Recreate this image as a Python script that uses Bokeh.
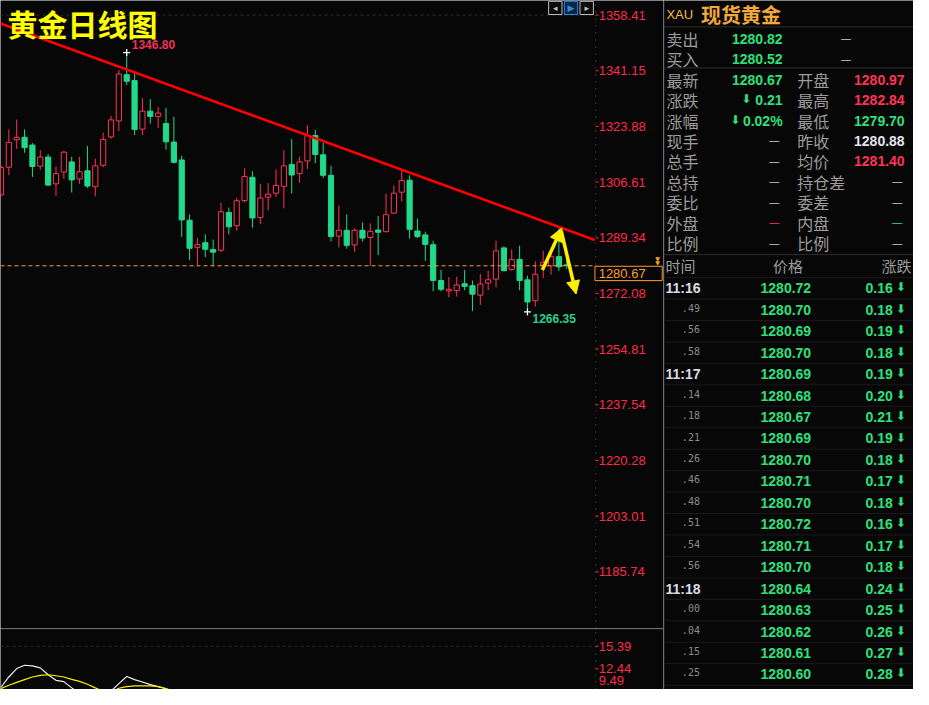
from bokeh.plotting import figure
from bokeh.models import Range1d, Span, Arrow, NormalHead, ColumnDataSource
from bokeh.layouts import row, column
from bokeh.embed import file_html
from bokeh.resources import INLINE
from bokeh.core.properties import value

# ---------------- data ----------------
opens = [1302.67, 1311.24, 1319.73, 1320.54, 1318.12, 1311.55, 1314.39, 1306.09, 1309.73, 1312.88,
         1307.61, 1310.15, 1305.19, 1311.85, 1320.64, 1325.60, 1339.93, 1338.11, 1323.06, 1328.63,
         1327.00, 1324.79, 1319.03, 1313.49, 1294.80, 1286.40, 1287.83, 1285.71, 1285.50, 1297.22,
         1293.07, 1300.94, 1308.12, 1295.61, 1301.97, 1303.19, 1305.31, 1312.06, 1309.25, 1313.18,
         1321.06, 1315.09, 1308.73, 1289.86, 1291.67, 1287.13, 1291.67, 1289.43, 1291.77, 1291.25,
         1297.01, 1303.49, 1307.22, 1291.46, 1290.25, 1287.22, 1276.10, 1272.89, 1272.98, 1275.10,
         1274.50, 1271.56, 1275.32, 1276.53, 1286.22, 1279.56, 1282.68, 1276.32, 1269.86, 1280.86,
         1280.65, 1283.50, 1280.97]
highs = [1311.76, 1322.97, 1326.00, 1322.97, 1318.73, 1316.52, 1315.30, 1311.46, 1316.30, 1314.49,
         1314.49, 1317.82, 1313.88, 1321.97, 1327.12, 1341.36, 1346.80, 1340.33, 1332.66, 1332.36,
         1329.94, 1329.63, 1326.91, 1314.79, 1296.61, 1289.34, 1290.46, 1288.74, 1300.25, 1298.73,
         1301.76, 1310.85, 1309.94, 1306.09, 1306.31, 1310.55, 1316.52, 1319.94, 1314.49, 1324.27,
         1322.88, 1318.82, 1311.67, 1299.34, 1296.61, 1292.28, 1294.10, 1293.80, 1296.10, 1303.07,
         1305.61, 1310.15, 1308.73, 1295.31, 1291.25, 1288.43, 1279.44, 1277.13, 1277.32, 1279.35,
         1276.10, 1278.13, 1279.13, 1288.43, 1286.71, 1285.71, 1286.92, 1277.62, 1282.07, 1285.40,
         1284.71, 1292.28, 1282.84]
lows = [1302.37, 1308.82, 1316.91, 1315.70, 1308.22, 1310.46, 1305.40, 1302.37, 1307.61, 1303.37,
        1306.09, 1304.79, 1302.16, 1311.24, 1320.03, 1322.45, 1336.69, 1321.24, 1321.24, 1324.79,
        1323.36, 1316.70, 1312.37, 1289.65, 1282.38, 1280.95, 1283.37, 1280.65, 1284.89, 1290.46,
        1291.55, 1300.34, 1292.46, 1293.58, 1297.82, 1302.06, 1298.52, 1303.07, 1306.40, 1310.64,
        1312.46, 1307.91, 1288.22, 1286.40, 1286.01, 1285.01, 1288.22, 1280.65, 1283.98, 1291.07,
        1296.82, 1300.55, 1289.13, 1289.25, 1282.16, 1272.77, 1272.77, 1270.86, 1271.08, 1273.08,
        1266.60, 1268.53, 1273.08, 1273.98, 1278.95, 1279.13, 1273.08, 1266.35, 1268.05, 1276.92,
        1277.92, 1279.13, 1279.70]
closes = [1311.15, 1318.94, 1320.54, 1317.30, 1311.46, 1314.39, 1305.70, 1309.25, 1315.91, 1307.31,
          1309.85, 1305.40, 1311.67, 1319.85, 1325.91, 1340.14, 1337.90, 1322.97, 1328.63, 1327.00,
          1328.03, 1319.12, 1312.76, 1294.89, 1286.10, 1287.22, 1285.80, 1284.89, 1297.43, 1292.77,
          1300.85, 1308.34, 1295.49, 1301.67, 1302.88, 1305.61, 1311.67, 1308.82, 1312.88, 1321.06,
          1315.18, 1308.73, 1289.74, 1291.67, 1287.01, 1291.67, 1289.25, 1291.37, 1291.07, 1296.52,
          1303.19, 1307.12, 1291.98, 1289.74, 1287.31, 1276.10, 1273.38, 1273.38, 1274.71, 1274.29,
          1271.86, 1275.01, 1276.32, 1285.31, 1279.13, 1282.59, 1276.10, 1269.44, 1278.04, 1281.77,
          1283.50, 1280.35, 1280.67]

price_ticks = [1358.41, 1341.15, 1323.88, 1306.61, 1289.34, 1272.08, 1254.81, 1237.54,
               1220.28, 1203.01, 1185.74]

# trend line (two anchor points: candle index, price)
trend_x = [-0.0625, 75.56]
trend_y = [1355.84, 1288.65]

# yellow arrows (candle index, price)
arrow_x0 = [68.9, 71.3]
arrow_y0 = [1279.35, 1291.46]
arrow_x1 = [71.375, 73.19]
arrow_y1 = [1292.37, 1271.92]

# lower indicator
ind_idx = list(range(23))
ind_white = [10.04, 11.38, 12.48, 12.91, 12.83, 12.57, 11.67, 10.94, 10.77, 9.96, 9.2, 8.8, 8.6, 8.9,
             9.53, 10.52, 11.45, 11.03, 10.73, 10.39, 10.13, 9.84, 9.5]
ind_yellow = [9.87, 10.30, 10.68, 11.03, 11.38, 11.58, 11.67, 11.54, 11.38, 11.07, 10.81, 10.43, 9.96,
              9.5, 9.4, 9.91, 10.13, 10.22, 10.22, 10.22, 10.13, 9.87, 9.5]
ind_ticks = [15.39, 12.44, 9.49]

# quote panel
symbol = "XAU"
name = "现货黄金"
sb_labels = ["卖出", "买入"]
sb_values = ["1280.82", "1280.52"]
q_left_labels = ["最新", "涨跌", "涨幅", "现手", "总手", "总持", "委比", "外盘", "比例"]
q_left_values = ["1280.67", "0.21", "0.02%", "—", "—", "—", "—", "—", "—"]
q_right_labels = ["开盘", "最高", "最低", "昨收", "均价", "持仓差", "委差", "内盘", "比例"]
q_right_values = ["1280.97", "1282.84", "1279.70", "1280.88", "1281.40", "—", "—", "—", "—"]
tick_headers = ["时间", "价格", "涨跌"]
tick_times = ["11:16", ".49", ".56", ".58", "11:17", ".14", ".18", ".21", ".26", ".46", ".48", ".51",
              ".54", ".56", "11:18", ".00", ".04", ".15", ".25"]
tick_prices = [1280.72, 1280.70, 1280.69, 1280.70, 1280.69, 1280.68, 1280.67, 1280.69, 1280.70,
               1280.71, 1280.70, 1280.72, 1280.71, 1280.70, 1280.64, 1280.63, 1280.62, 1280.61,
               1280.60]
tick_changes = [0.16, 0.18, 0.19, 0.18, 0.19, 0.20, 0.21, 0.19, 0.18, 0.17, 0.18, 0.16, 0.17, 0.18,
                0.24, 0.25, 0.26, 0.27, 0.28]

# ---------------- style ----------------
BG = "#070707"
UP = "#ff3355"
DN = "#22d98a"
AXRED = "#ff2b48"
QGREEN = "#2fe07a"
QRED = "#ff3355"
GREY = "#9c9c9c"
ORANGE = "#ff9c33"
YELLOW = "#ffee00"
NUMF = value("Liberation Sans")
CJKF = value("Noto Sans CJK SC")

W_MAIN, H_MAIN, H_IND, W_PANEL = 663, 628, 61, 250
AXIS_X = 75.6875          # candle-index position of the price scale line
LABEL_X = 76.06           # where scale labels start

xr = Range1d(-0.0625, 84.3125)
yr = Range1d(1168.17, 1362.95)


def base_fig(height, y_range):
    f = figure(width=W_MAIN, height=height, x_range=xr, y_range=y_range,
               output_backend="svg", toolbar_location=None, x_axis_location=None,
               y_axis_location=None, background_fill_color=BG, border_fill_color=BG,
               min_border=0, outline_line_color=None)
    f.grid.grid_line_color = None
    return f


def price_scale(f, ticks, lo, hi):
    f.segment(x0=[AXIS_X], y0=[lo], x1=[AXIS_X], y1=[hi], line_color="#5c5c5c",
              line_dash="1 6", line_width=1)
    f.segment(x0=[AXIS_X] * len(ticks), y0=ticks, x1=[AXIS_X + 0.35] * len(ticks), y1=ticks,
              line_color=AXRED, line_width=1)
    # a label whose tick sits just below the visible range is lifted to stay readable
    vis = [max(t, lo) for t in ticks]
    base = ["bottom" if t < lo else "middle" for t in ticks]
    off = [-5 if t < lo else 0 for t in ticks]
    f.text([LABEL_X] * len(ticks), vis, text=[f"{t:.2f}" for t in ticks], y_offset=off,
           text_font=NUMF, text_font_size="13px", text_color=AXRED, text_align="left",
           text_baseline=base)


p = base_fig(H_MAIN, yr)
price_scale(p, price_ticks, yr.start, yr.end)

p.segment(x0=[xr.start], y0=[price_ticks[0]], x1=[AXIS_X], y1=[price_ticks[0]],
          line_color="#2a2a2a", line_dash="3 3", line_width=1)

idx = list(range(len(opens)))


def build(sel):
    return ColumnDataSource(dict(
        x=[i for i in idx if sel(i)],
        top=[max(opens[i], closes[i]) for i in idx if sel(i)],
        bottom=[min(opens[i], closes[i]) for i in idx if sel(i)],
        hi=[highs[i] for i in idx if sel(i)],
        lo=[lows[i] for i in idx if sel(i)]))


src_up = build(lambda i: closes[i] >= opens[i])
src_dn = build(lambda i: closes[i] < opens[i])
p.segment(x0="x", y0="hi", x1="x", y1="lo", source=src_up, line_color=UP, line_width=1)
p.vbar(x="x", top="top", bottom="bottom", width=0.66, source=src_up, fill_color=BG,
       line_color=UP, line_width=1)
p.segment(x0="x", y0="hi", x1="x", y1="lo", source=src_dn, line_color=DN, line_width=1)
p.vbar(x="x", top="top", bottom="bottom", width=0.66, source=src_dn, fill_color=DN,
       line_color=DN, line_width=1)

# current price line + box on the scale
last = closes[-1]
p.segment(x0=[xr.start], y0=[last], x1=[AXIS_X], y1=[last], line_color=ORANGE,
          line_dash="4 3", line_width=1)
p.quad(left=[AXIS_X - 0.1], right=[84.15], top=[last - 0.15], bottom=[last - 4.6],
       fill_color=BG, line_color=ORANGE, line_width=1)
p.text([LABEL_X], [last], text=[f"{last:.2f}"], y_offset=8, text_font=NUMF,
       text_font_size="13px", text_color=ORANGE, text_align="left", text_baseline="middle")
p.text([83.55, 83.55], [last, last], text=["▼", "▼"], y_offset=[-7, -3],
       text_font=value("DejaVu Sans"), text_font_size="6px", text_color=ORANGE,
       text_align="center", text_baseline="middle")

# trend line
p.line(trend_x, trend_y, line_color="#ff0000", line_width=2.6)

# arrows
for x0, y0, x1, y1 in zip(arrow_x0, arrow_y0, arrow_x1, arrow_y1):
    p.add_layout(Arrow(end=NormalHead(size=13, fill_color=YELLOW, line_color=YELLOW),
                       x_start=x0, y_start=y0, x_end=x1, y_end=y1,
                       line_color=YELLOW, line_width=3.5))

# extreme labels
hi_i = max(idx, key=lambda i: highs[i])
lo_i = min(idx, key=lambda i: lows[i])
p.scatter([hi_i, lo_i], [highs[hi_i], lows[lo_i]], marker="cross", size=7,
          line_color="#ffffff", line_width=1.3)
p.text([hi_i], [highs[hi_i]], text=[f"{highs[hi_i]:.2f}"], x_offset=5, y_offset=-8,
       text_align="left", text_baseline="middle", text_font=NUMF, text_font_style="bold",
       text_font_size="12px", text_color="#f0305a")
p.text([lo_i], [lows[lo_i]], text=[f"{lows[lo_i]:.2f}"], x_offset=5, y_offset=7,
       text_align="left", text_baseline="middle", text_font=NUMF, text_font_style="bold",
       text_font_size="12px", text_color="#2ad08a")

# title
p.text([xr.start], [yr.end], text=["黄金日线图"], x_offset=7, y_offset=22,
       text_align="left", text_baseline="middle", text_font=CJKF, text_font_style="bold",
       text_font_size="30px", text_color="#ffff00")

# small tool icons
icon_left = [69.69, 71.69, 73.69]
p.quad(left=icon_left, right=[v + 1.7 for v in icon_left], top=[1362.7] * 3,
       bottom=[1358.6] * 3, fill_color=["#0b0b0b", "#0a2545", "#0b0b0b"],
       line_color=["#bdbdbd", "#2f8de4", "#bdbdbd"], line_width=1)
p.text([v + 0.85 for v in icon_left], [1360.65] * 3, text=["◂", "▶", "▸"],
       text_align="center", text_baseline="middle", text_font=value("DejaVu Sans"),
       text_font_size="9px", text_color=["#bdbdbd", "#2f8de4", "#bdbdbd"])

# ---------------- indicator ----------------
ir = Range1d(9.747, 17.70)
ind = base_fig(H_IND, ir)
ind.add_layout(Span(location=17.63, dimension="width", line_color="#262626", line_width=1))
ind.segment(x0=[xr.start], y0=[ind_ticks[0]], x1=[AXIS_X], y1=[ind_ticks[0]],
            line_color="#2a2a2a", line_dash="3 3", line_width=1)
price_scale(ind, ind_ticks, ir.start, 17.5)
ind.line(ind_idx, ind_white, line_color="#eeeeee", line_width=1.2)
ind.line(ind_idx, ind_yellow, line_color=YELLOW, line_width=1.2)

# ---------------- quote panel ----------------
pn = figure(width=W_PANEL, height=H_MAIN + H_IND, x_range=Range1d(675, 929),
            y_range=Range1d(705, 0), output_backend="svg", toolbar_location=None,
            x_axis_location=None, y_axis_location=None, background_fill_color=BG,
            border_fill_color=BG, min_border=0, outline_line_color=None)
pn.grid.grid_line_color = None

pn.segment(x0=[675.5], y0=[0], x1=[675.5], y1=[705], line_color="#333333", line_width=1)
pn.segment(x0=[675] * 3, y0=[27, 69, 260], x1=[929] * 3, y1=[27, 69, 260],
           line_color="#2e2e2e", line_width=1)
row_y = [294.5 + 21.95 * k for k in range(len(tick_times))]
sep_y = [283.5 + 21.95 * k for k in range(len(tick_times) + 1)]
pn.segment(x0=[676] * len(sep_y), y0=sep_y, x1=[929] * len(sep_y), y1=sep_y,
           line_color="#1a1a1a", line_width=1)

pn.text([678], [14], text=[symbol], text_font=NUMF, text_font_size="13px",
        text_color="#f7b94a", text_baseline="middle")
pn.text([713], [14], text=[name], text_font=CJKF, text_font_style="bold",
        text_font_size="20px", text_color="#f2a83a", text_baseline="middle")

sb_y = [39, 60]
pn.text([678] * 2, sb_y, text=sb_labels, text_font=CJKF, text_font_size="16px",
        text_color=GREY, text_baseline="middle")
pn.text([796] * 2, sb_y, text=sb_values, text_font=NUMF, text_font_style="bold",
        text_font_size="14px", text_color=QGREEN, text_align="right", text_baseline="middle")
pn.text([860.5] * 2, sb_y, text=["—", "—"], text_font=NUMF, text_font_size="10px",
        text_color="#c8c8c8", text_align="center", text_baseline="middle")

q_y = [81 + 20.9 * k for k in range(len(q_left_labels))]
left_colors = [QGREEN, QGREEN, QGREEN, "#c8c8c8", "#c8c8c8", "#c8c8c8", "#c8c8c8", QRED, "#c8c8c8"]
right_colors = [QRED, QRED, QGREEN, "#e4e4f0", QRED, "#c8c8c8", "#c8c8c8", QGREEN, "#c8c8c8"]
pn.text([678] * len(q_y), q_y, text=q_left_labels, text_font=CJKF, text_font_size="16px",
        text_color=GREY, text_baseline="middle")
pn.text([811] * len(q_y), q_y, text=q_right_labels, text_font=CJKF, text_font_size="16px",
        text_color=GREY, text_baseline="middle")
for vals, cols, xnum, xdash in ((q_left_values, left_colors, 796, 787.5),
                                (q_right_values, right_colors, 920, 912.5)):
    num = [(y, v, c) for y, v, c in zip(q_y, vals, cols) if v != "—"]
    dash = [(y, v, c) for y, v, c in zip(q_y, vals, cols) if v == "—"]
    pn.text([xnum] * len(num), [n[0] for n in num], text=[n[1] for n in num],
            text_color=[n[2] for n in num], text_font=NUMF, text_font_style="bold",
            text_font_size="14px", text_align="right", text_baseline="middle")
    pn.text([xdash] * len(dash), [d[0] for d in dash], text=[d[1] for d in dash],
            text_color=[d[2] for d in dash], text_font=NUMF, text_font_size="10px",
            text_align="center", text_baseline="middle")
pn.text([759, 748], [q_y[1] - 1, q_y[2] - 1], text=["⬇", "⬇"], text_font=value("DejaVu Sans"),
        text_font_size="12px", text_color=QGREEN, text_align="center", text_baseline="middle")

pn.text([677, 801.5, 927], [271] * 3, text=tick_headers, text_font=CJKF, text_font_size="15px",
        text_color=GREY, text_align=["left", "center", "right"], text_baseline="middle")
big = [(y, t) for y, t in zip(row_y, tick_times) if ":" in t]
small = [(y, t) for y, t in zip(row_y, tick_times) if ":" not in t]
pn.text([677] * len(big), [b[0] for b in big], text=[b[1] for b in big], text_font=NUMF,
        text_font_style="bold", text_font_size="14px", text_color="#dadae6",
        text_baseline="middle")
pn.text([712] * len(small), [s[0] - 2 for s in small], text=[s[1] for s in small],
        text_font=value("DejaVu Sans Mono"), text_font_size="10px", text_color="#8c8c8c",
        text_align="right", text_baseline="middle")
pn.text([825] * len(row_y), row_y, text=[f"{v:.2f}" for v in tick_prices], text_font=NUMF,
        text_font_style="bold", text_font_size="14px", text_color=QGREEN, text_align="right",
        text_baseline="middle")
pn.text([908] * len(row_y), row_y, text=[f"{v:.2f}" for v in tick_changes], text_font=NUMF,
        text_font_style="bold", text_font_size="14px", text_color=QGREEN, text_align="right",
        text_baseline="middle")
pn.text([916] * len(row_y), [y - 1 for y in row_y], text=["⬇"] * len(row_y),
        text_font=value("DejaVu Sans"), text_font_size="12px", text_color=QGREEN,
        text_align="center", text_baseline="middle")

layout = row(column(p, ind), pn)
open("out.html", "w").write(file_html(layout, INLINE))
